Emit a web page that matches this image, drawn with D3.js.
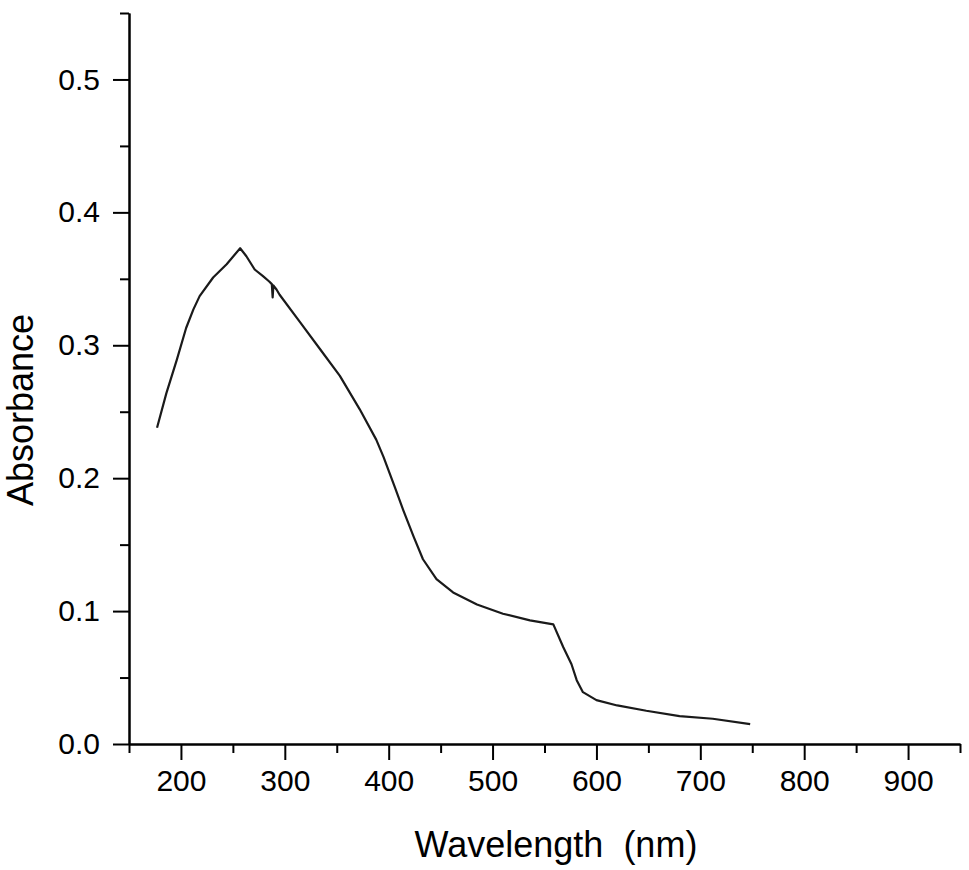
<!DOCTYPE html>
<html>

<head>
    <meta charset="UTF-8">
    <title>Absorbance</title>
    <style>
        body { margin: 0; background: #fff; }
        text { font-family: "Liberation Sans", Arial, sans-serif; fill: #000; }
    </style>
</head>

<body>
    <script src="https://cdn.jsdelivr.net/npm/d3@7/dist/d3.min.js"></script>

    <svg id="chart" width="969" height="870"></svg>

    <script>
        // wavelength (nm) and absorbance
        const wavelength = [177, 186, 196, 205, 212, 218, 231, 244, 257, 263, 271, 279, 285, 287.5, 288.3, 289,
            292, 295, 315, 334, 353, 372, 388, 395, 406, 414, 424, 433, 446, 462, 485, 510, 536, 558.5,
            568, 576, 581, 587, 600, 620, 648, 680, 712, 748];
        const absorbance = [0.238, 0.264, 0.289, 0.313, 0.327, 0.337, 0.351, 0.361, 0.373, 0.367, 0.357, 0.352, 0.348, 0.346, 0.336, 0.345,
            0.342, 0.338, 0.317, 0.297, 0.277, 0.252, 0.229, 0.216, 0.193, 0.176, 0.156, 0.139, 0.124, 0.114, 0.105, 0.098, 0.093, 0.090,
            0.073, 0.060, 0.048, 0.039, 0.033, 0.029, 0.025, 0.021, 0.019, 0.015];

        const xMajor = [200, 300, 400, 500, 600, 700, 800, 900];
        const xMinor = [150, 250, 350, 450, 550, 650, 750, 850, 950];
        const yMajor = [0.0, 0.1, 0.2, 0.3, 0.4, 0.5];
        const yMinor = [0.05, 0.15, 0.25, 0.35, 0.45, 0.55];

        const svg = d3.select("#chart");
        const plotLeft = 129, plotRight = 960, plotTop = 13, plotBottom = 744;

        const x = d3.scaleLinear().domain([150, 950]).range([plotLeft, plotRight]);
        const y = d3.scaleLinear().domain([0, 0.55]).range([plotBottom, plotTop]);

        const styleAxis = g => {
            g.selectAll("path").attr("stroke", "#000").attr("stroke-width", 2);
            g.selectAll("line").attr("stroke", "#000").attr("stroke-width", 2);
            g.selectAll("text").attr("font-size", 30).attr("fill", "#000")
                .attr("font-family", "'Liberation Sans', Arial, sans-serif");
        }

        //x轴 主刻度 + 次刻度
        svg.append("g")
            .attr("transform", `translate(0,${plotBottom})`)
            .call(d3.axisBottom(x).tickValues(xMinor).tickSize(9).tickSizeOuter(0).tickFormat(""))
            .call(styleAxis);
        svg.append("g")
            .attr("transform", `translate(0,${plotBottom})`)
            .call(d3.axisBottom(x).tickValues(xMajor).tickSize(16).tickSizeOuter(0).tickPadding(10).tickFormat(d3.format("d")))
            .call(styleAxis);

        //y轴
        svg.append("g")
            .attr("transform", `translate(${plotLeft},0)`)
            .call(d3.axisLeft(y).tickValues(yMinor).tickSize(9).tickSizeOuter(0).tickFormat(""))
            .call(styleAxis);
        svg.append("g")
            .attr("transform", `translate(${plotLeft},0)`)
            .call(d3.axisLeft(y).tickValues(yMajor).tickSize(16).tickSizeOuter(0).tickPadding(13).tickFormat(d3.format(".1f")))
            .call(styleAxis);

        //曲线
        const points = wavelength.map((w, i) => [w, absorbance[i]]);
        svg.append("path")
            .datum(points)
            .attr("fill", "none")
            .attr("stroke", "#1a1a1a")
            .attr("stroke-width", 2.2)
            .attr("stroke-linejoin", "round")
            .attr("d", d3.line().x(d => x(d[0])).y(d => y(d[1])));

        //坐标轴标题
        svg.append("text")
            .attr("x", 556)
            .attr("y", 857)
            .attr("text-anchor", "middle")
            .attr("font-size", 36)
            .style("white-space", "pre")
            .text("Wavelength  (nm)");

        svg.append("text")
            .attr("transform", "translate(33,410) rotate(-90)")
            .attr("text-anchor", "middle")
            .attr("font-size", 36)
            .text("Absorbance");
    </script>

</body>

</html>
